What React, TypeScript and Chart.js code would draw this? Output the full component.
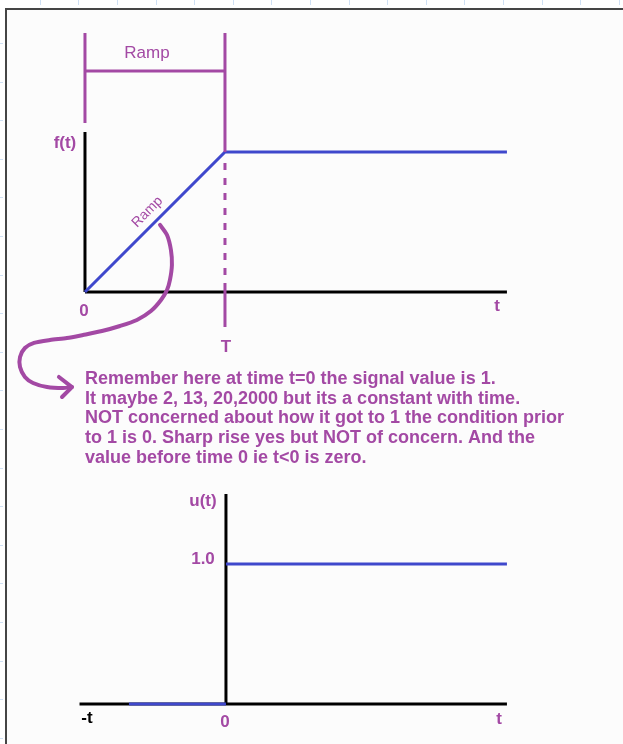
import React, { useEffect, useRef } from "react";
import { Chart, registerables } from "chart.js";

Chart.register(...registerables);

// ---------- Top diagram: ramp f(t) (t in units of T, f in units of plateau) ----------
const rampT = [0, 1, 3.014];
const rampF = [0, 1, 1];
const topXAxisT = [0, 3.014];
const topXAxisF = [0, 0];
const topYAxisT = [0, 0];
const topYAxisF = [0, 1.143];
// "Ramp" span bracket and the T marker
const bracketLeftT = [0, 0];
const bracketLeftF = [1.85, 1.207];
const bracketBarT = [0, 1];
const bracketBarF = [1.579, 1.579];
const markerSolidT = [1, 1];
const markerSolidF = [1.85, 1.0];
const markerDashT = [1, 1];
const markerDashF = [0.979, 0.043];
const markerLowT = [1, 1];
const markerLowF = [0.043, -0.25];
// hand-drawn curved arrow
const arrowT = [0.536, 0.586, 0.614, 0.621, 0.607, 0.586, 0.543, 0.471, 0.371, 0.25, 0.121, -0.014, -0.129, -0.25, -0.364, -0.429, -0.464, -0.464, -0.429, -0.371, -0.271, -0.157, -0.093];
const arrowF = [0.479, 0.407, 0.3, 0.193, 0.086, 0.014, -0.057, -0.136, -0.2, -0.243, -0.279, -0.307, -0.329, -0.343, -0.364, -0.4, -0.464, -0.536, -0.607, -0.65, -0.679, -0.686, -0.679];
const arrowHeadT = [-0.186, -0.093, -0.164];
const arrowHeadF = [-0.607, -0.679, -0.75];

const topLabelText = ["f(t)", "0", "t", "T"];
const topLabelT = [-0.143, -0.007, 2.943, 1.007];
const topLabelF = [1.064, -0.136, -0.1, -0.393];

const rampSpanLabel = "Ramp";
const rampSpanT = 0.443;
const rampSpanF = 1.707;
const rampSlopeT = 0.446;
const rampSlopeF = 0.571;

const noteLines = [
  "Remember here at time t=0 the signal value is 1.",
  "It maybe 2, 13, 20,2000 but its a constant with time.",
  "NOT concerned about how it got to 1 the condition prior",
  "to 1 is 0. Sharp rise yes but NOT of concern. And the",
  "value before time 0 ie t<0 is zero.",
];
const noteT = 0;
const noteF = -0.621;

// ---------- Bottom diagram: unit step u(t) ----------
const stepHighT = [0, 2.007];
const stepHighU = [1, 1];
const stepLowT = [-0.693, 0];
const stepLowU = [0, 0];
const botXAxisT = [-1.046, 2.007];
const botXAxisU = [0, 0];
const botYAxisT = [0, 0];
const botYAxisU = [0, 1.5];

const botLabelText = ["u(t)", "1.0", "-t", "0", "t"];
const botLabelT = [-0.164, -0.164, -0.993, -0.007, 1.95];
const botLabelU = [1.45, 1.036, -0.1, -0.129, -0.107];

const PURPLE = "#A349A4";
const BLUE = "#3F48CC";
const BLACK = "#000000";
const SANS = "'Liberation Sans', Arial, sans-serif";

const pts = (xs: number[], ys: number[]) => xs.map((x, i) => ({ x, y: ys[i] }));

function ds(xs: number[], ys: number[], color: string, width: number, order: number, bottom = false, extra: any = {}) {
  return {
    data: pts(xs, ys),
    borderColor: color,
    backgroundColor: color,
    borderWidth: width,
    pointRadius: 0,
    fill: false,
    tension: 0,
    order,
    xAxisID: bottom ? "x2" : "x",
    yAxisID: bottom ? "y2" : "y",
    ...extra,
  };
}

const decorPlugin = {
  id: "decor",
  beforeDraw(chart: any) {
    const ctx = chart.ctx as CanvasRenderingContext2D;
    const w = chart.width;
    const h = chart.height;
    ctx.save();
    ctx.fillStyle = "#ffffff";
    ctx.fillRect(0, 0, w, h);
    ctx.fillStyle = "#fcfcfc";
    ctx.fillRect(7, 10, w - 7, h - 10);
    // ruler ticks
    ctx.strokeStyle = "#cfe0f4";
    ctx.lineWidth = 1;
    for (let x = 39.7; x < w; x += 38.6) {
      ctx.beginPath();
      ctx.moveTo(Math.round(x) + 0.5, 0);
      ctx.lineTo(Math.round(x) + 0.5, 5);
      ctx.stroke();
    }
    for (let y = 43; y < h; y += 38.6) {
      ctx.beginPath();
      ctx.moveTo(0, Math.round(y) + 0.5);
      ctx.lineTo(3, Math.round(y) + 0.5);
      ctx.stroke();
    }
    // window frame
    ctx.strokeStyle = "#454545";
    ctx.lineWidth = 2;
    ctx.beginPath();
    ctx.moveTo(6, h);
    ctx.lineTo(6, 9);
    ctx.lineTo(w, 9);
    ctx.stroke();
    ctx.restore();
  },
  afterDatasetsDraw(chart: any) {
    const ctx = chart.ctx as CanvasRenderingContext2D;
    const sx = chart.scales.x;
    const sy = chart.scales.y;
    const sx2 = chart.scales.x2;
    const sy2 = chart.scales.y2;
    ctx.save();
    ctx.textAlign = "center";
    ctx.textBaseline = "middle";

    // top labels
    ctx.font = `bold 17px ${SANS}`;
    topLabelText.forEach((txt, i) => {
      ctx.fillStyle = PURPLE;
      ctx.fillText(txt, sx.getPixelForValue(topLabelT[i]), sy.getPixelForValue(topLabelF[i]));
    });

    // "Ramp" labels
    ctx.font = `17px ${SANS}`;
    ctx.fillStyle = PURPLE;
    ctx.fillText(rampSpanLabel, sx.getPixelForValue(rampSpanT), sy.getPixelForValue(rampSpanF));
    ctx.save();
    ctx.translate(sx.getPixelForValue(rampSlopeT), sy.getPixelForValue(rampSlopeF));
    ctx.rotate(-Math.PI / 4);
    ctx.font = `14px ${SANS}`;
    ctx.fillText(rampSpanLabel, 0, 0);
    ctx.restore();

    // note paragraph
    ctx.font = `bold 18px ${SANS}`;
    ctx.textAlign = "left";
    const nx = sx.getPixelForValue(noteT);
    const ny = sy.getPixelForValue(noteF);
    noteLines.forEach((line, i) => {
      ctx.fillText(line, nx, ny + i * 19.75);
    });

    // bottom labels
    ctx.textAlign = "center";
    ctx.font = `bold 17px ${SANS}`;
    botLabelText.forEach((txt, i) => {
      ctx.fillStyle = txt === "-t" ? BLACK : PURPLE;
      ctx.fillText(txt, sx2.getPixelForValue(botLabelT[i]), sy2.getPixelForValue(botLabelU[i]));
    });
    ctx.restore();
  },
};

export default function App() {
  const ref = useRef<HTMLCanvasElement>(null);
  useEffect(() => {
    if (!ref.current) return;
    const chart = new Chart(ref.current, {
      type: "line",
      data: {
        datasets: [
          // axes (drawn underneath)
          ds(topXAxisT, topXAxisF, BLACK, 3, 20),
          ds(topYAxisT, topYAxisF, BLACK, 3, 20),
          ds(botXAxisT, botXAxisU, BLACK, 3, 20, true),
          ds(botYAxisT, botYAxisU, BLACK, 3, 20, true),
          // signals
          ds(rampT, rampF, BLUE, 3, 10),
          ds(stepHighT, stepHighU, BLUE, 3, 10, true),
          ds(stepLowT, stepLowU, BLUE, 3, 10, true),
          // annotations in purple
          ds(bracketLeftT, bracketLeftF, PURPLE, 3, 5),
          ds(bracketBarT, bracketBarF, PURPLE, 3, 5),
          ds(markerSolidT, markerSolidF, PURPLE, 3, 5),
          ds(markerDashT, markerDashF, PURPLE, 3, 5, false, { borderDash: [7, 8], borderDashOffset: 7 }),
          ds(markerLowT, markerLowF, PURPLE, 3, 5),
          ds(arrowT, arrowF, PURPLE, 4, 1, false, { tension: 0.25, borderCapStyle: "round", borderJoinStyle: "round" }),
          ds(arrowHeadT, arrowHeadF, PURPLE, 4, 1, false, { borderCapStyle: "round", borderJoinStyle: "round" }),
        ],
      },
      options: {
        responsive: false,
        animation: false,
        devicePixelRatio: 1,
        layout: { padding: 0 },
        plugins: { legend: { display: false }, tooltip: { enabled: false } },
        events: [],
        scales: {
          x: { type: "linear", display: false, min: -0.607, max: 3.843 },
          y: { type: "linear", display: false, min: -3.229, max: 2.086 },
          x2: { type: "linear", display: false, min: -1.614, max: 2.836 },
          y2: { type: "linear", display: false, min: -0.286, max: 5.029 },
        },
      },
      plugins: [decorPlugin],
    } as any);
    return () => chart.destroy();
  }, []);

  return (
    <div style={{ position: "fixed", left: 0, top: 0, width: 623, height: 744 }}>
      <canvas ref={ref} width={623} height={744} style={{ display: "block", width: 623, height: 744 }} />
    </div>
  );
}
